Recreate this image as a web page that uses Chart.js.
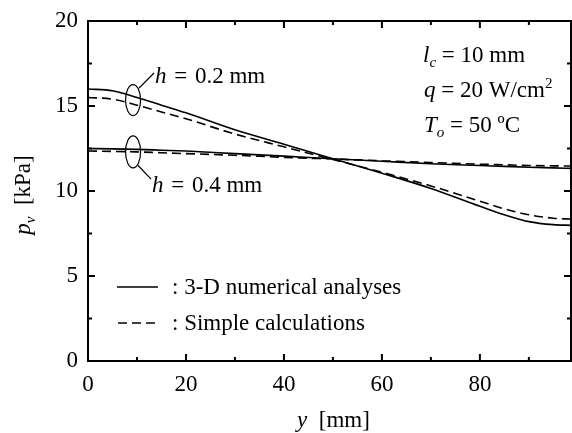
<!DOCTYPE html>
<html>
<head>
<meta charset="utf-8">
<script src="https://cdn.jsdelivr.net/npm/chart.js@4.4.1/dist/chart.umd.min.js"></script>
<style>
  body { margin: 0; background: #fff; }
  #wrap { width: 572px; height: 433px; }
</style>
</head>
<body>
<div id="wrap"><canvas id="pv" width="572" height="433"></canvas></div>
<script>
// position along the channel, y [mm]
const yPos = [0, 5, 10, 15, 20, 30, 40, 50, 60, 70, 80, 85, 90, 95, 98.6];
// vapor pressure p_v [kPa]
const h02Numerical = [16.0, 15.9, 15.5, 15.05, 14.6, 13.6, 12.75, 11.9, 11.05, 10.15, 9.1, 8.6, 8.2, 8.02, 7.98];
const h02Simple    = [15.5, 15.4, 15.05, 14.65, 14.25, 13.35, 12.6, 11.85, 11.1, 10.3, 9.4, 8.95, 8.6, 8.4, 8.35];
const h04Numerical = [12.5, 12.48, 12.45, 12.4, 12.35, 12.2, 12.05, 11.9, 11.75, 11.6, 11.5, 11.45, 11.4, 11.36, 11.33];
const h04Simple    = [12.35, 12.33, 12.3, 12.25, 12.2, 12.1, 11.98, 11.88, 11.78, 11.68, 11.58, 11.54, 11.5, 11.48, 11.47];
const xTickLabels = [0, 20, 40, 60, 80];
const yTickLabels = [0, 5, 10, 15, 20];
const seriesNames = ['3-D numerical analyses', 'Simple calculations'];

const SERIF = '"Liberation Serif", "Times New Roman", serif';
const FS = 23;
const EQ = ' = ';
const EQH = '\u2004=\u2004';

function pts(vals) {
  return yPos.map((x, i) => ({ x: x, y: vals[i] }));
}

function curve(label, vals, dashed) {
  return {
    label: label,
    data: pts(vals),
    borderColor: '#000',
    borderWidth: 1.6,
    borderDash: dashed ? [9, 5] : [],
    pointRadius: 0,
    cubicInterpolationMode: 'monotone',
    fill: false
  };
}

// draw text made of plain / italic / sub / sup pieces
function rich(ctx, x, y, parts, align) {
  const fontOf = p => (p.i ? 'italic ' : '') + (p.s ? Math.round(FS * 0.66) : FS) + 'px ' + SERIF;
  let w = 0;
  parts.forEach(p => { ctx.font = fontOf(p); w += ctx.measureText(p.t).width; });
  let cx = align === 'center' ? x - w / 2 : x;
  ctx.textAlign = 'left';
  ctx.textBaseline = 'alphabetic';
  parts.forEach(p => {
    ctx.font = fontOf(p);
    const dy = p.s === 'sub' ? 5 : p.s === 'sup' ? -9 : 0;
    ctx.fillText(p.t, cx, y + dy);
    cx += ctx.measureText(p.t).width;
  });
}

const decor = {
  id: 'decor',
  afterDraw(chart) {
    const ctx = chart.ctx;
    const xs = chart.scales.x, ys = chart.scales.y;
    const a = chart.chartArea;
    ctx.save();
    ctx.strokeStyle = '#000';
    ctx.fillStyle = '#000';

    // frame
    ctx.lineWidth = 2;
    ctx.strokeRect(a.left, a.top, a.right - a.left, a.bottom - a.top);

    // inward ticks on all four sides
    ctx.beginPath();
    xs.ticks.forEach(t => {
      const px = xs.getPixelForValue(t.value);
      const len = xTickLabels.includes(t.value) ? 7 : 4;
      ctx.moveTo(px, a.bottom); ctx.lineTo(px, a.bottom - len);
      ctx.moveTo(px, a.top); ctx.lineTo(px, a.top + len);
    });
    ys.ticks.forEach(t => {
      const py = ys.getPixelForValue(t.value);
      const len = yTickLabels.includes(t.value) ? 7 : 4;
      ctx.moveTo(a.left, py); ctx.lineTo(a.left + len, py);
      ctx.moveTo(a.right, py); ctx.lineTo(a.right - len, py);
    });
    ctx.stroke();

    // ellipses marking the h groups
    ctx.lineWidth = 1.2;
    const ex = xs.getPixelForValue(9.2);
    ctx.beginPath();
    ctx.ellipse(ex, ys.getPixelForValue(15.35), 7.5, 15.5, 0, 0, Math.PI * 2);
    ctx.stroke();
    ctx.beginPath();
    ctx.ellipse(ex, ys.getPixelForValue(12.3), 7.5, 16, 0, 0, Math.PI * 2);
    ctx.stroke();
    // leader lines
    ctx.beginPath();
    ctx.moveTo(ex + 6, ys.getPixelForValue(16.06));
    ctx.lineTo(ex + 21, ys.getPixelForValue(16.94));
    ctx.moveTo(ex + 5, ys.getPixelForValue(11.5));
    ctx.lineTo(ex + 18, ys.getPixelForValue(10.7));
    ctx.stroke();

    rich(ctx, ex + 22, 83, [{ t: 'h', i: 1 }, { t: EQH + '0.2 mm' }]);
    rich(ctx, ex + 19, 192, [{ t: 'h', i: 1 }, { t: EQH + '0.4 mm' }]);

    // conditions
    rich(ctx, 423, 62, [{ t: 'l', i: 1 }, { t: 'c', i: 1, s: 'sub' }, { t: EQ + '10 mm' }]);
    rich(ctx, 424, 97, [{ t: 'q', i: 1 }, { t: EQ + '20 W/cm' }, { t: '2', s: 'sup' }]);
    rich(ctx, 424, 132, [{ t: 'T', i: 1 }, { t: 'o', i: 1, s: 'sub' }, { t: EQ + '50 ºC' }]);

    // legend
    ctx.lineWidth = 1.6;
    ctx.beginPath();
    ctx.moveTo(117, 287); ctx.lineTo(158, 287);
    ctx.stroke();
    ctx.setLineDash([9, 5]);
    ctx.beginPath();
    ctx.moveTo(118, 323); ctx.lineTo(160, 323);
    ctx.stroke();
    ctx.setLineDash([]);
    rich(ctx, 172, 294, [{ t: ': ' + seriesNames[0] }]);
    rich(ctx, 172, 330, [{ t: ': ' + seriesNames[1] }]);

    // axis titles
    rich(ctx, (a.left + a.right) / 2 + 4, 427, [{ t: 'y', i: 1 }, { t: '  [mm]' }], 'center');
    ctx.translate(30, (a.top + a.bottom) / 2 + 4);
    ctx.rotate(-Math.PI / 2);
    rich(ctx, 0, 0, [{ t: 'p', i: 1 }, { t: 'v', i: 1, s: 'sub' }, { t: '  [kPa]' }], 'center');
    ctx.restore();
  }
};

new Chart(document.getElementById('pv'), {
  type: 'line',
  data: {
    datasets: [
      curve('h = 0.2 mm, ' + seriesNames[0], h02Numerical, false),
      curve('h = 0.2 mm, ' + seriesNames[1], h02Simple, true),
      curve('h = 0.4 mm, ' + seriesNames[0], h04Numerical, false),
      curve('h = 0.4 mm, ' + seriesNames[1], h04Simple, true)
    ]
  },
  options: {
    responsive: false,
    animation: false,
    layout: { padding: { top: 21, right: 1, left: 0, bottom: 0 } },
    plugins: { legend: { display: false }, tooltip: { enabled: false } },
    scales: {
      x: {
        type: 'linear',
        min: 0,
        max: 98.6,
        grid: { display: false },
        border: { display: false },
        afterFit: s => { s.height = 72; },
        ticks: {
          stepSize: 10,
          includeBounds: false,
          autoSkip: false,
          maxRotation: 0,
          padding: 2,
          color: '#000',
          font: { family: SERIF, size: FS },
          callback: v => xTickLabels.includes(v) ? String(v) : ''
        }
      },
      y: {
        min: 0,
        max: 20,
        grid: { display: false },
        border: { display: false },
        afterFit: s => { s.width = 88; },
        ticks: {
          stepSize: 2.5,
          autoSkip: false,
          padding: 2,
          color: '#000',
          font: { family: SERIF, size: FS },
          callback: v => yTickLabels.includes(v) ? String(v) : ''
        }
      }
    }
  },
  plugins: [decor]
});
</script>
</body>
</html>
